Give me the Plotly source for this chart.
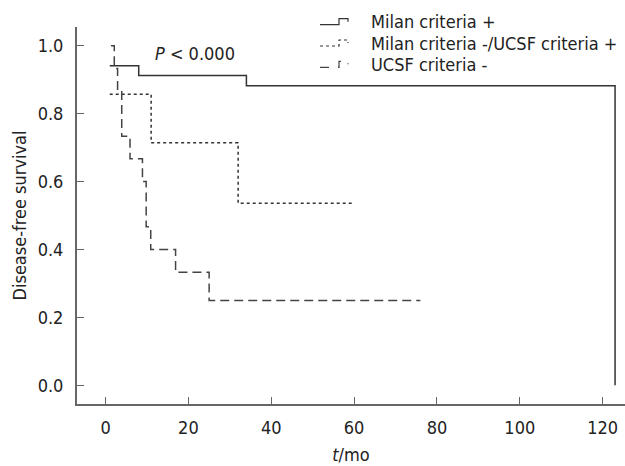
import plotly.graph_objects as go

# Kaplan-Meier step data (event times in months, survival)
milan_pos_t = [1, 8, 34, 123]
milan_pos_s = [0.941, 0.912, 0.882, 0.0]

milan_neg_ucsf_pos_t = [1, 11, 32, 60]
milan_neg_ucsf_pos_s = [0.857, 0.714, 0.536, 0.536]

ucsf_neg_t = [1.3, 2.1, 2.9, 3.9, 5.9, 8.9, 9.8, 10.9, 16.9, 25, 76]
ucsf_neg_s = [1.0, 0.933, 0.867, 0.733, 0.667, 0.6, 0.467, 0.4, 0.333, 0.25, 0.25]

series_names = ["Milan criteria +", "Milan criteria -/UCSF criteria +", "UCSF criteria -"]

x_ticks = [0, 20, 40, 60, 80, 100, 120]
y_ticks = [0.0, 0.2, 0.4, 0.6, 0.8, 1.0]

FONT = "DejaVu Sans Condensed, Noto Sans, DejaVu Sans"
FS = 18
TXT = "#222222"

W, H = 625, 466
ML, MR, MT, MB = 77, 0, 27, 62
PW, PH = W - ML - MR, H - MT - MB

styles = [
    dict(color="#333333", width=1.5),
    dict(color="#333333", width=1.5, dash="3px,3px"),
    dict(color="#444444", width=1.5, dash="9px,5px"),
]
data = [(milan_pos_t, milan_pos_s), (milan_neg_ucsf_pos_t, milan_neg_ucsf_pos_s), (ucsf_neg_t, ucsf_neg_s)]

fig = go.Figure()
for (t, s), st, nm in zip(data, styles, series_names):
    fig.add_trace(go.Scatter(x=t, y=s, mode="lines", line_shape="hv", line=st, name=nm,
                             showlegend=False))

fig.add_annotation(x=21.6, y=0.978, text="<i>P</i> < 0.000", showarrow=False,
                   font=dict(family=FONT, size=FS, color=TXT))

# manual legend (step-shaped glyphs + text), positioned in pixels -> paper
def px_x(p):
    return (p - ML) / PW

def px_y(p):
    return (H - MB - p) / PH

legend_rows = [21.7, 43.0, 64.3]
glyph_dash = ["solid", "dot", "dash"]
for yc, nm, st, dsh in zip(legend_rows, series_names, styles, glyph_dash):
    fig.add_annotation(xref="paper", yref="paper", x=px_x(369), y=px_y(yc), text=nm,
                       showarrow=False, xanchor="left", yanchor="middle",
                       font=dict(family=FONT, size=FS, color=TXT))
    yb, yt = yc + 3, yc - 3
    path = (f"M {px_x(320)},{px_y(yb)} L {px_x(339)},{px_y(yb)} L {px_x(339)},{px_y(yt)} "
            f"L {px_x(348)},{px_y(yt)} L {px_x(348)},{px_y(yt + 3)}")
    fig.add_shape(type="path", xref="paper", yref="paper", path=path,
                  line=dict(color=st["color"], width=1.2, dash=dsh))

fig.update_layout(
    width=W, height=H,
    margin=dict(l=ML, r=MR, t=MT, b=MB),
    plot_bgcolor="white", paper_bgcolor="white",
    font=dict(family=FONT, size=FS, color=TXT),
    showlegend=False,
    xaxis=dict(range=[-6.9, 125.4], tickvals=x_ticks, ticks="inside", ticklen=7,
               tickcolor="#666666", showline=True, linecolor="#666666", linewidth=2,
               showgrid=False, zeroline=False, ticklabelstandoff=6,
               title=dict(text="<i>t</i>/mo", font=dict(family=FONT, size=FS), standoff=12)),
    yaxis=dict(range=[-0.055, 1.055], tickvals=y_ticks, tickformat=".1f", ticks="inside",
               ticklen=7, tickcolor="#666666", showline=True, linecolor="#666666", linewidth=2,
               showgrid=False, zeroline=False, ticklabelstandoff=8,
               title=dict(text="Disease-free survival", font=dict(family=FONT, size=FS), standoff=6)),
)

fig.write_html("out.html")
